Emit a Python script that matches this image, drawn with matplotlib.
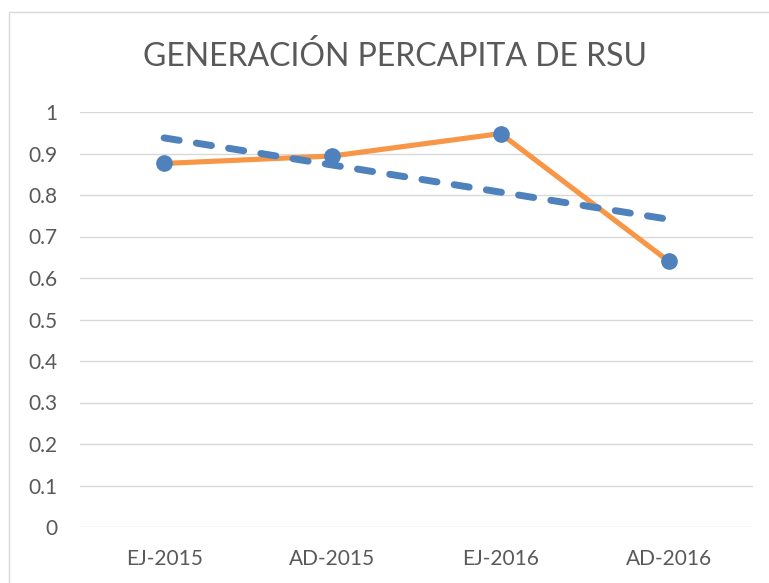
import matplotlib
matplotlib.use("Agg")
import matplotlib.pyplot as plt
import numpy as np
from matplotlib.patches import Rectangle

categories = ["EJ-2015", "AD-2015", "EJ-2016", "AD-2016"]
values = [0.876, 0.894, 0.948, 0.640]
yticks = [0, 0.1, 0.2, 0.3, 0.4, 0.5, 0.6, 0.7, 0.8, 0.9, 1]
ytick_labels = ["0", "0.1", "0.2", "0.3", "0.4", "0.5", "0.6", "0.7", "0.8", "0.9", "1"]
title = "GENERACIÓN PERCAPITA DE RSU"

plt.rcParams['font.family'] = ['Lato', 'DejaVu Sans']
text_color = "#595959"

fig = plt.figure(figsize=(7.69, 5.83), dpi=100)
fig.patch.set_facecolor("white")
fig.patches.append(Rectangle((9/769, -0.05), 1.0, 1 - 12/583 + 0.05,
                             transform=fig.transFigure, fill=False,
                             edgecolor="#D9D9D9", linewidth=1.0))

ax = fig.add_axes([80/769, 1 - 527/583, (753-80)/769, (527-112)/583])
x = np.arange(len(categories))

ax.plot(x, values, color="#F79646", linewidth=3.7, zorder=3, solid_capstyle="round")

# linear trendline
coef = np.polyfit(x, values, 1)
trend = np.polyval(coef, x)
ax.plot(x, trend, color="#4F81BD", linewidth=5.0, linestyle=(0, (2.2, 2.5)),
        dash_capstyle="round", zorder=4)

ax.plot(x, values, linestyle="none", marker="o", markersize=11,
        color="#4F81BD", markeredgecolor="#4F81BD", zorder=5)

ax.set_xlim(-0.5, len(categories) - 0.5)
ax.set_ylim(0, 1)
ax.set_yticks(yticks)
ax.set_yticklabels(ytick_labels)
ax.set_xticks(x)
ax.set_xticklabels(categories)
ax.grid(axis="y", color="#D9D9D9", linewidth=1.0)
ax.set_axisbelow(True)
for s in ax.spines.values():
    s.set_visible(False)
ax.tick_params(axis="both", length=0, colors=text_color, labelsize=15)
ax.tick_params(axis="y", pad=16)
ax.tick_params(axis="x", pad=16)
for lbl in ax.get_yticklabels():
    lbl.set_horizontalalignment("right")

fig.text(395/769, 1 - 57/583, title, ha="center", va="center",
         fontsize=23, color=text_color)

fig.savefig("out.png", dpi=100, facecolor="white")
